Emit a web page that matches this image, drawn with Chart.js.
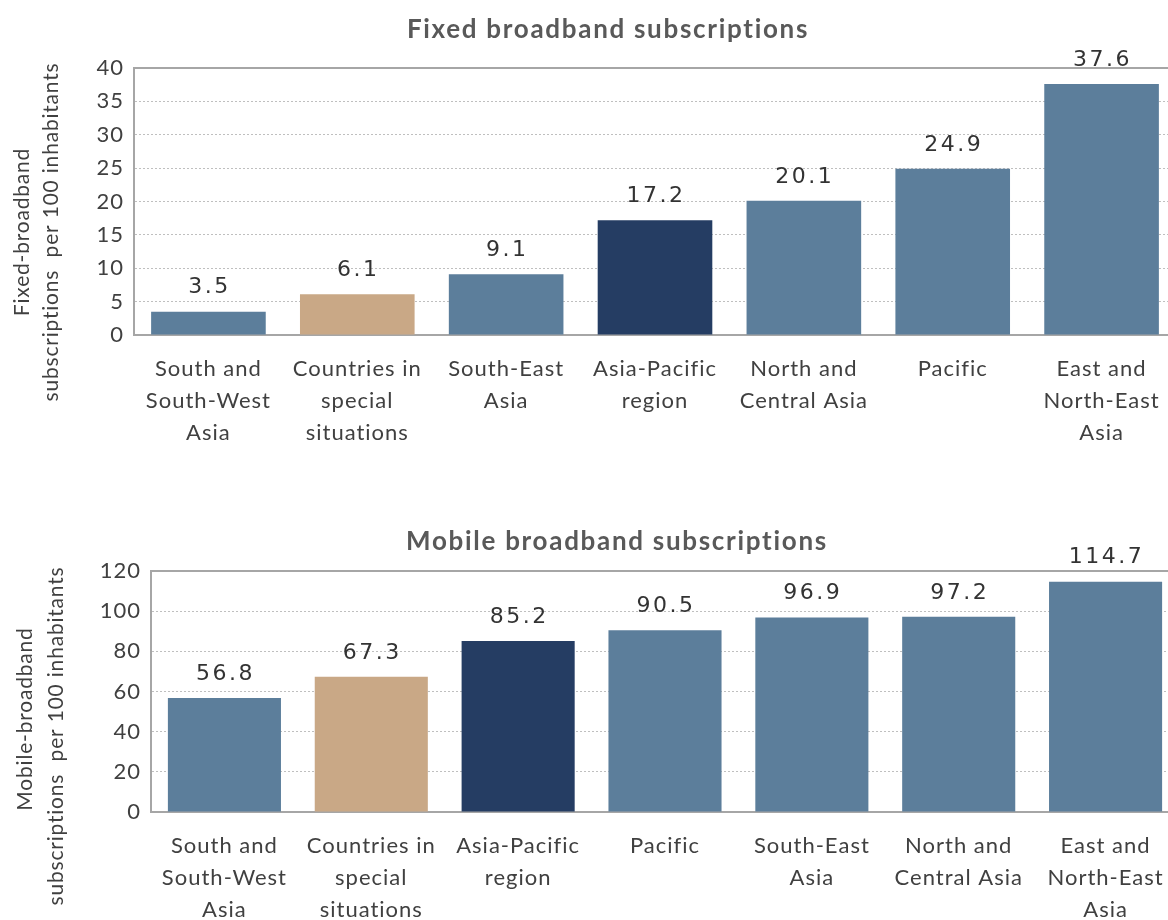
<!DOCTYPE html>
<html>
<head>
<meta charset="utf-8">
<title>Broadband subscriptions</title>
<script src="https://cdn.jsdelivr.net/npm/chart.js@4.4.1/dist/chart.umd.min.js"></script>
<style>
    html, body { margin: 0; padding: 0; background: #fff; overflow: hidden; width: 1168px; }
    /* the reference plot runs a little past the right edge of the picture */
    .box { position: relative; height: 460px; }
    .title {
        position: absolute;
        transform: translate(-50%, -50%);
        white-space: nowrap;
        font: bold 26px Lato, "Open Sans", sans-serif;
        letter-spacing: 1.7px;
        color: #595959;
    }
</style>
</head>
<body>
<div class="box" style="width:1176px;">
    <canvas id="fixedChart"></canvas>
    <div class="title" style="left:608px; top:28px;">Fixed broadband subscriptions</div>
</div>
<div class="box" style="width:1179px;">
    <canvas id="mobileChart"></canvas>
    <div class="title" style="left:617px; top:80px;">Mobile broadband subscriptions</div>
</div>

<script>
// --- data ---
const fixedLabels = [
    ["South and", "South-West", "Asia"],
    ["Countries in", "special", "situations"],
    ["South-East", "Asia"],
    ["Asia-Pacific", "region"],
    ["North and", "Central Asia"],
    ["Pacific"],
    ["East and", "North-East", "Asia"]
];
const fixedValues = [3.5, 6.1, 9.1, 17.2, 20.1, 24.9, 37.6];
const fixedTicks = [0, 5, 10, 15, 20, 25, 30, 35, 40];

const mobileLabels = [
    ["South and", "South-West", "Asia"],
    ["Countries in", "special", "situations"],
    ["Asia-Pacific", "region"],
    ["Pacific"],
    ["South-East", "Asia"],
    ["North and", "Central Asia"],
    ["East and", "North-East", "Asia"]
];
const mobileValues = [56.8, 67.3, 85.2, 90.5, 96.9, 97.2, 114.7];
const mobileTicks = [0, 20, 40, 60, 80, 100, 120];

const FONT = "Lato, 'Open Sans', sans-serif";

function barColor(label) {
    const name = label.join(" ");
    if (name === "Countries in special situations") return "#c9a886";
    if (name === "Asia-Pacific region") return "#253d63";
    return "#5c7e9b";
}

// the reference text is slightly letter-spaced
const spacing = {
    id: "spacing",
    beforeUpdate(chart) { chart.ctx.letterSpacing = "1px"; },
    beforeLayout(chart) { chart.ctx.letterSpacing = "1px"; },
    beforeDraw(chart) { chart.ctx.letterSpacing = "1px"; }
};

// rotated y-axis title, placed like the reference (not centred on the plot)
const yTitle = {
    id: "yTitle",
    afterDraw(chart, args, opts) {
        const ctx = chart.ctx;
        ctx.save();
        ctx.fillStyle = "#404040";
        ctx.font = "21px " + FONT;
        ctx.letterSpacing = "0.8px";
        ctx.textAlign = "center";
        ctx.textBaseline = "middle";
        opts.lines.forEach((line, i) => {
            ctx.save();
            ctx.translate(opts.x[i], opts.y[i]);
            ctx.rotate(-Math.PI / 2);
            ctx.fillText(line, 0, 0);
            ctx.restore();
        });
        ctx.restore();
    }
};

// value labels above each bar + solid top frame line
const valueLabels = {
    id: "valueLabels",
    afterDatasetsDraw(chart) {
        const ctx = chart.ctx;
        const area = chart.chartArea;
        ctx.save();
        ctx.strokeStyle = "#a6a6a6";
        ctx.lineWidth = 2;
        ctx.beginPath();
        ctx.moveTo(area.left, area.top);
        ctx.lineTo(area.right, area.top);
        ctx.stroke();

        ctx.fillStyle = "#333333";
        ctx.font = "22px 'DejaVu Sans', sans-serif";
        ctx.letterSpacing = "2.5px";
        ctx.textAlign = "center";
        ctx.textBaseline = "middle";
        const meta = chart.getDatasetMeta(0);
        meta.data.forEach((bar, i) => {
            const v = chart.data.datasets[0].data[i];
            ctx.fillText(v.toFixed(1), bar.x + 1, bar.y - 24);
        });
        ctx.restore();
    }
};

function makeChart(canvasId, titleOpts, labels, values, ticks, leftWidth, topPad, xHeight) {
    const canvas = document.querySelector(canvasId);
    const maxVal = ticks[ticks.length - 1];
    const step = ticks[1] - ticks[0];

    return new Chart(canvas, {
        type: "bar",
        data: {
            labels,
            datasets: [{
                data: values,
                backgroundColor: labels.map(barColor),
                categoryPercentage: 1,
                barPercentage: 0.77
            }]
        },
        options: {
            responsive: true,
            maintainAspectRatio: false,
            animation: false,
            layout: { padding: { left: 0, right: 0, top: topPad, bottom: 0 } },
            plugins: {
                legend: { display: false },
                tooltip: { enabled: false },
                title: { display: false },
                yTitle: titleOpts
            },
            scales: {
                x: {
                    grid: { display: false },
                    border: { display: true, color: "#a6a6a6", width: 2 },
                    ticks: {
                        color: "#404040",
                        font: { family: FONT, size: 22, lineHeight: 1.45 },
                        maxRotation: 0,
                        autoSkip: false,
                        padding: 10
                    },
                    afterFit(scale) { scale.height = xHeight; }
                },
                y: {
                    min: 0,
                    max: maxVal,
                    grid: {
                        color: "#bfbfbf",
                        lineWidth: 1,
                        drawTicks: false
                    },
                    border: { display: true, color: "#a6a6a6", width: 2, dash: [2, 2] },
                    ticks: {
                        stepSize: step,
                        color: "#404040",
                        font: { family: FONT, size: 22 },
                        padding: 10
                    },
                    afterFit(scale) { scale.width = leftWidth; }
                }
            }
        },
        plugins: [spacing, yTitle, valueLabels]
    });
}

makeChart("#fixedChart",
    { lines: ["Fixed-broadband", "subscriptions  per 100 inhabitants"], x: [22, 51], y: [232, 232] },
    fixedLabels, fixedValues, fixedTicks, 134, 68, 125);

makeChart("#mobileChart",
    { lines: ["Mobile-broadband", "subscriptions  per 100 inhabitants"], x: [25, 56], y: [259, 276] },
    mobileLabels, mobileValues, mobileTicks, 151, 111, 108);
</script>
</body>
</html>
